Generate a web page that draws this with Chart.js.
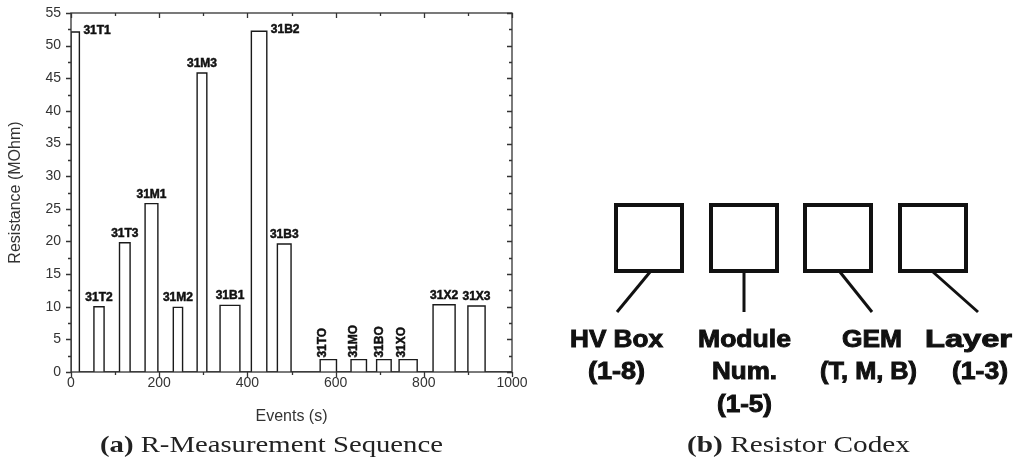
<!DOCTYPE html>
<html>
<head>
<meta charset="utf-8">
<script src="https://cdn.jsdelivr.net/npm/chart.js@4.4.1/dist/chart.umd.min.js"></script>
<style>
  html, body { margin: 0; padding: 0; background: #fff; }
  #wrap { position: relative; width: 1021px; height: 468px; overflow: hidden; }
  #rChart { position: absolute; left: 0; top: 0; }
  #overlay { position: absolute; left: 0; top: 0; pointer-events: none; }
</style>
</head>
<body>
<div id="wrap">
  <canvas id="rChart" width="530" height="430" style="width:530px;height:430px"></canvas>
  <svg id="overlay" width="1021" height="468" xmlns="http://www.w3.org/2000/svg">
    <!-- captions -->
    <g font-family="'Liberation Serif', 'DejaVu Serif', serif" font-size="23" fill="#222">
      <text x="100" y="452" textLength="343" lengthAdjust="spacingAndGlyphs"><tspan font-weight="bold">(a)</tspan> R-Measurement Sequence</text>
      <text x="687" y="452" textLength="223" lengthAdjust="spacingAndGlyphs"><tspan font-weight="bold">(b)</tspan> Resistor Codex</text>
    </g>
    <!-- resistor codex diagram -->
    <g fill="none" stroke="#111" stroke-width="4">
      <rect x="616" y="205" width="66" height="66"/>
      <rect x="711" y="205" width="66" height="66"/>
      <rect x="805" y="205" width="66" height="66"/>
      <rect x="900" y="205" width="66" height="66"/>
    </g>
    <g stroke="#111" stroke-width="3" stroke-linecap="butt">
      <line x1="650" y1="272" x2="617" y2="312"/>
      <line x1="744" y1="272" x2="744" y2="312"/>
      <line x1="840" y1="272" x2="872" y2="312"/>
      <line x1="933" y1="272" x2="978" y2="312"/>
    </g>
    <g font-family="'Liberation Sans', Arial, sans-serif" font-weight="bold" font-size="23" fill="#111" stroke="#111" stroke-width="0.9">
      <text x="570" y="347" textLength="93" lengthAdjust="spacingAndGlyphs">HV Box</text>
      <text x="588" y="379" textLength="57" lengthAdjust="spacingAndGlyphs">(1-8)</text>
      <text x="698" y="347" textLength="93" lengthAdjust="spacingAndGlyphs">Module</text>
      <text x="712" y="379" textLength="65" lengthAdjust="spacingAndGlyphs">Num.</text>
      <text x="717" y="412" textLength="55" lengthAdjust="spacingAndGlyphs">(1-5)</text>
      <text x="842" y="347" textLength="60" lengthAdjust="spacingAndGlyphs">GEM</text>
      <text x="820" y="379" textLength="97" lengthAdjust="spacingAndGlyphs">(T, M, B)</text>
      <text x="925" y="347" textLength="87" lengthAdjust="spacingAndGlyphs">Layer</text>
      <text x="952" y="379" textLength="56" lengthAdjust="spacingAndGlyphs">(1-3)</text>
    </g>
  </svg>
</div>
<script>
const segNames = ['31T1', '31T2', '31T3', '31M1', '31M2', '31M3', '31B1', '31B2', '31B3', '31TO', '31MO', '31BO', '31XO', '31X2', '31X3'];
const segStart = [0, 52, 110, 168, 232, 286, 338, 409, 468, 565, 635, 693, 744, 821, 900];   // s
const segEnd   = [19, 75, 134, 197, 253, 308, 383, 444, 499, 602, 670, 726, 785, 871, 939];  // s
const segLevel = [52.1, 10.0, 19.8, 25.8, 9.9, 45.8, 10.2, 52.2, 19.6, 1.9, 1.9, 1.9, 1.9, 10.3, 10.1]; // MOhm
const xTicks = [0, 200, 400, 600, 800, 1000];
const yTicks = [0, 5, 10, 15, 20, 25, 30, 35, 40, 45, 50, 55];

// label placement: beside the bar for the tall start/end ones, vertical for the small "0" ones
const sideLabels = ['31T1', '31B2'];
const vertLabels = ['31TO', '31MO', '31BO', '31XO'];

// step trace built from the segments
const trace = [];
segStart.forEach((s, i) => {
  trace.push({ x: s, y: 0 }, { x: s, y: segLevel[i] });
  trace.push({ x: segEnd[i], y: segLevel[i] }, { x: segEnd[i], y: 0 });
});
trace.push({ x: 1000, y: 0 });

const AXIS = '#333';
const LBL_FONT = "'Liberation Sans', Arial, sans-serif";

// ═════ PLUGINS ═════
const frameTicks = {
  id: 'frameTicks',
  afterDraw(chart) {
    const { ctx, chartArea: a, scales: { x, y } } = chart;
    ctx.save();
    ctx.strokeStyle = AXIS; ctx.lineWidth = 1.3;
    ctx.strokeRect(a.left, a.top, a.right - a.left, a.bottom - a.top);
    ctx.beginPath();
    for (let v = 0; v <= 1000; v += 100) {
      const px = Math.round(x.getPixelForValue(v)) + 0.5;
      const len = v % 200 === 0 ? 5 : 3;
      ctx.moveTo(px, a.bottom); ctx.lineTo(px, a.bottom + len);
      ctx.moveTo(px, a.top); ctx.lineTo(px, a.top + len);
    }
    for (let v = 0; v <= 55; v += 2.5) {
      const py = Math.round(y.getPixelForValue(v)) + 0.5;
      const len = v % 5 === 0 ? 5 : 3;
      ctx.moveTo(a.left, py); ctx.lineTo(a.left - len, py);
      ctx.moveTo(a.right, py); ctx.lineTo(a.right - len, py);
    }
    ctx.stroke();
    ctx.restore();
  }
};

const segLabelPlugin = {
  id: 'segLabels',
  afterDatasetsDraw(chart) {
    const { ctx, scales: { x, y } } = chart;
    ctx.save();
    ctx.fillStyle = '#111'; ctx.strokeStyle = '#111'; ctx.lineWidth = 0.5;
    ctx.font = 'bold 12px ' + LBL_FONT;
    segNames.forEach((name, i) => {
      const top = y.getPixelForValue(segLevel[i]);
      if (sideLabels.includes(name)) {
        const px = x.getPixelForValue(segEnd[i]) + 4;
        ctx.textAlign = 'left'; ctx.textBaseline = 'alphabetic';
        ctx.fillText(name, px, top + 2); ctx.strokeText(name, px, top + 2);
      } else if (vertLabels.includes(name)) {
        ctx.save();
        ctx.translate(x.getPixelForValue(segStart[i]) + 3, top - 2);
        ctx.rotate(-Math.PI / 2);
        ctx.textAlign = 'left'; ctx.textBaseline = 'middle';
        ctx.fillText(name, 0, 0); ctx.strokeText(name, 0, 0);
        ctx.restore();
      } else {
        const px = x.getPixelForValue((segStart[i] + segEnd[i]) / 2);
        ctx.textAlign = 'center'; ctx.textBaseline = 'alphabetic';
        ctx.fillText(name, px, top - 6); ctx.strokeText(name, px, top - 6);
      }
    });
    ctx.restore();
  }
};

// ═════ CHART ═════
new Chart(document.getElementById('rChart').getContext('2d'), {
  type: 'line',
  data: {
    datasets: [{
      data: trace,
      borderColor: '#1a1a1a', borderWidth: 1.4,
      pointRadius: 0, tension: 0, fill: false
    }]
  },
  options: {
    responsive: false, animation: false,
    layout: { padding: { left: 0, top: 13, right: 18, bottom: 0 } },
    plugins: { legend: { display: false }, tooltip: { enabled: false } },
    scales: {
      x: {
        type: 'linear', min: 0, max: 1000,
        afterBuildTicks: s => { s.ticks = xTicks.map(v => ({ value: v })); },
        afterFit: s => { s.height = 58; s.paddingLeft = 0; s.paddingRight = 0; },
        grid: { display: false, drawTicks: false },
        border: { display: false },
        ticks: { color: AXIS, padding: 3, maxRotation: 0, callback: v => String(v), font: { family: LBL_FONT, size: 14 } },
        title: { display: true, text: 'Events (s)', color: AXIS, padding: { top: 0, bottom: 4 }, font: { family: LBL_FONT, size: 16 } }
      },
      y: {
        type: 'linear', min: 0, max: 55,
        afterBuildTicks: s => { s.ticks = yTicks.map(v => ({ value: v })); },
        afterFit: s => { s.width = 71; s.paddingTop = 0; s.paddingBottom = 0; },
        grid: { display: false, drawTicks: false },
        border: { display: false },
        ticks: { color: AXIS, padding: 10, callback: v => String(v), font: { family: LBL_FONT, size: 14 } },
        title: { display: true, text: 'Resistance (MOhm)', color: AXIS, padding: { top: 6, bottom: 0 }, font: { family: LBL_FONT, size: 16 } }
      }
    }
  },
  plugins: [frameTicks, segLabelPlugin]
});
</script>
</body>
</html>
